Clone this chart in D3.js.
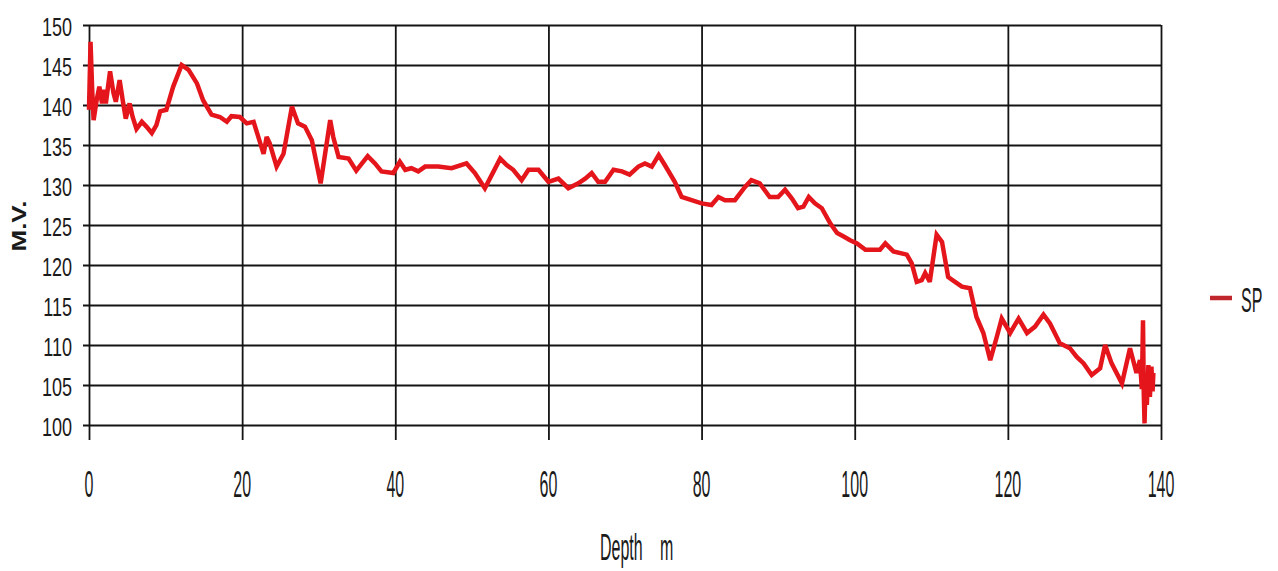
<!DOCTYPE html>
<html>
<head>
<meta charset="utf-8">
<script src="https://cdn.jsdelivr.net/npm/d3@7"></script>
<style>
  html, body { margin: 0; padding: 0; background: #fff; }
  #chart { width: 1278px; height: 571px; }
</style>
</head>
<body>
<div id="chart"></div>
<script>
// SP log: depth (m) and potential (mV)
const depth = [0.0, 0.2, 0.4, 0.6, 1.0, 1.35, 1.7, 2.0, 2.2, 2.75, 3.2, 3.5, 4.0, 4.4, 4.8, 5.3, 5.7, 6.2, 6.9, 7.5,
  8.2, 8.8, 9.3, 10.1, 11.0, 12.1, 13.0, 14.1, 14.9, 16.0, 17.1, 18.0, 18.6, 19.7, 20.6, 21.5, 22.8, 23.2, 23.6, 24.5,
  25.4, 26.5, 27.3, 28.2, 29.1, 30.25, 31.5, 31.9, 32.6, 33.9, 34.9, 36.4, 37.35, 38.2, 39.75, 40.6, 41.3, 42.1, 43.0, 43.9,
  45.6, 47.35, 49.3, 50.4, 51.7, 53.7, 54.55, 55.4, 56.5, 57.4, 58.7, 60.0, 61.3, 62.6, 63.9, 64.8, 65.65, 66.5, 67.4, 68.5,
  69.6, 70.6, 71.75, 72.6, 73.5, 74.4, 75.2, 76.5, 77.4, 78.7, 80.0, 81.3, 82.2, 83.05, 84.35, 85.7, 86.5, 87.6, 88.9, 90.0,
  90.9, 91.8, 92.6, 93.3, 94.0, 94.8, 95.7, 96.8, 97.7, 98.5, 99.4, 100.3, 101.4, 103.3, 104.0, 105.05, 106.8, 107.45, 108.1, 108.75,
  109.2, 109.8, 110.7, 111.4, 112.2, 113.1, 114.0, 115.05, 115.9, 116.8, 117.7, 118.55, 119.2, 120.3, 121.4, 122.5, 123.55, 124.65, 125.5, 126.8,
  128.1, 129.0, 129.9, 130.95, 132.05, 132.7, 133.55, 134.9, 135.95, 136.8, 137.25, 137.5, 137.65, 137.75, 137.85, 138.0, 138.15, 138.35, 138.55, 138.75,
  138.9, 139.0];
const sp = [139.4, 147.9, 142.3, 138.1, 140.6, 142.3, 140.2, 141.9, 140.2, 144.2, 141.5, 140.4, 143.1, 140.6, 138.3, 140.2, 138.5, 137.0, 137.9, 137.3,
  136.5, 137.5, 139.2, 139.4, 142.3, 145.0, 144.4, 142.7, 140.6, 138.8, 138.5, 137.9, 138.6, 138.5, 137.7, 137.9, 133.9, 136.0, 135.2, 132.3,
  133.9, 139.8, 137.7, 137.3, 135.6, 130.2, 138.1, 136.0, 133.5, 133.3, 131.8, 133.6, 132.7, 131.7, 131.5, 132.9, 131.9, 132.1, 131.7, 132.3,
  132.3, 132.1, 132.7, 131.5, 129.6, 133.3, 132.5, 131.9, 130.6, 131.9, 131.9, 130.4, 130.8, 129.6, 130.2, 130.8, 131.5, 130.4, 130.4, 131.9,
  131.7, 131.3, 132.3, 132.7, 132.3, 133.75, 132.5, 130.4, 128.5, 128.1, 127.7, 127.5, 128.5, 128.1, 128.1, 129.8, 130.6, 130.2, 128.5, 128.5,
  129.4, 128.3, 127.1, 127.3, 128.5, 127.7, 127.1, 125.2, 124.0, 123.6, 123.1, 122.7, 121.9, 121.9, 122.7, 121.7, 121.3, 120.2, 117.9, 118.1,
  119.0, 117.9, 123.8, 122.9, 118.5, 117.9, 117.3, 117.1, 113.5, 111.5, 108.1, 111.0, 113.3, 111.5, 113.3, 111.5, 112.3, 113.8, 112.7, 110.2,
  109.6, 108.5, 107.7, 106.25, 107.1, 110.0, 107.7, 105.2, 109.6, 106.5, 108.1, 104.5, 113.1, 104.0, 100.2, 106.0, 102.5, 107.5, 103.5, 107.3,
  104.2, 106.5];

const xTicks = [0, 20, 40, 60, 80, 100, 120, 140];
const yTicks = [100, 105, 110, 115, 120, 125, 130, 135, 140, 145, 150];
const seriesName = "SP";
const xTitle = "Depth m";
const yTitle = "M.V.";

let conf = {
  width: 1278,
  height: 571,
  marginLeft: 89,
  marginRight: 117,  // plot right edge at 1161
  marginTop: 25,
  marginBottom: 146, // plot bottom at 425
  lineColor: "#e4161c",
  gridColor: "#141414",
  font: "'Liberation Sans', Arial, sans-serif",
};

const svg = d3.select("#chart").append("svg")
  .attr("width", conf.width)
  .attr("height", conf.height)
  .attr("viewBox", [0, 0, conf.width, conf.height]);

const x = d3.scaleLinear([0, 140], [conf.marginLeft, conf.width - conf.marginRight]);
const y = d3.scaleLinear([100, 150], [conf.height - conf.marginBottom, conf.marginTop]);

// horizontal grid, runs a little past the left edge
svg.append("g")
  .attr("transform", `translate(${x(140)},0)`)
  .call(d3.axisLeft(y).tickValues(yTicks).tickSize(x(140) - x(0) + 6).tickFormat(""))
  .call(g => g.select(".domain").remove())
  .call(g => g.selectAll(".tick line").attr("stroke", conf.gridColor).attr("stroke-width", 2.2));

// vertical grid, runs down past the bottom as tick marks
svg.append("g")
  .attr("transform", `translate(0,${y(150)})`)
  .call(d3.axisBottom(x).tickValues(xTicks).tickSize(y(100) - y(150) + 15).tickFormat(""))
  .call(g => g.select(".domain").remove())
  .call(g => g.selectAll(".tick line").attr("stroke", conf.gridColor).attr("stroke-width", 1.8));

// tick labels (tall, narrow lettering)
svg.append("g").selectAll("text").data(yTicks).join("text")
  .attr("transform", d => `translate(72,${y(d) + 10.5}) scale(1,1.47)`)
  .attr("text-anchor", "end")
  .attr("font-family", conf.font)
  .attr("font-size", 18)
  .attr("fill", "#1a1a1a")
  .text(d => d);

svg.append("g").selectAll("text").data(xTicks).join("text")
  .attr("transform", d => `translate(${x(d)},497) scale(1,2.3)`)
  .attr("text-anchor", "middle")
  .attr("font-family", conf.font)
  .attr("font-size", 16)
  .attr("fill", "#1a1a1a")
  .text(d => d);

// axis titles
svg.append("text")
  .attr("transform", "translate(600,560) scale(1,2.3)")
  .attr("font-family", conf.font)
  .attr("font-size", 16)
  .attr("word-spacing", 13)
  .attr("fill", "#1a1a1a")
  .text(xTitle);

svg.append("text")
  .attr("transform", "translate(26,226) rotate(-90) scale(1.3,1)")
  .attr("text-anchor", "middle")
  .attr("font-family", conf.font)
  .attr("font-size", 20)
  .attr("font-weight", "bold")
  .attr("fill", "#1a1a1a")
  .text(yTitle);

// the SP curve
const line = d3.line()
  .x((d, i) => x(depth[i]))
  .y(d => y(d));
svg.append("path")
  .attr("fill", "none")
  .attr("stroke", conf.lineColor)
  .attr("stroke-width", 4.5)
  .attr("stroke-linejoin", "miter")
  .attr("stroke-miterlimit", 3)
  .attr("d", line(sp));

// legend
svg.append("line")
  .attr("x1", 1210).attr("x2", 1232)
  .attr("y1", 298).attr("y2", 298)
  .attr("stroke", "#c0272d")
  .attr("stroke-width", 4.5);
svg.append("text")
  .attr("transform", "translate(1241,312) scale(1,2.18)")
  .attr("font-family", conf.font)
  .attr("font-size", 16)
  .attr("fill", "#1a1a1a")
  .text(seriesName);
</script>
</body>
</html>
